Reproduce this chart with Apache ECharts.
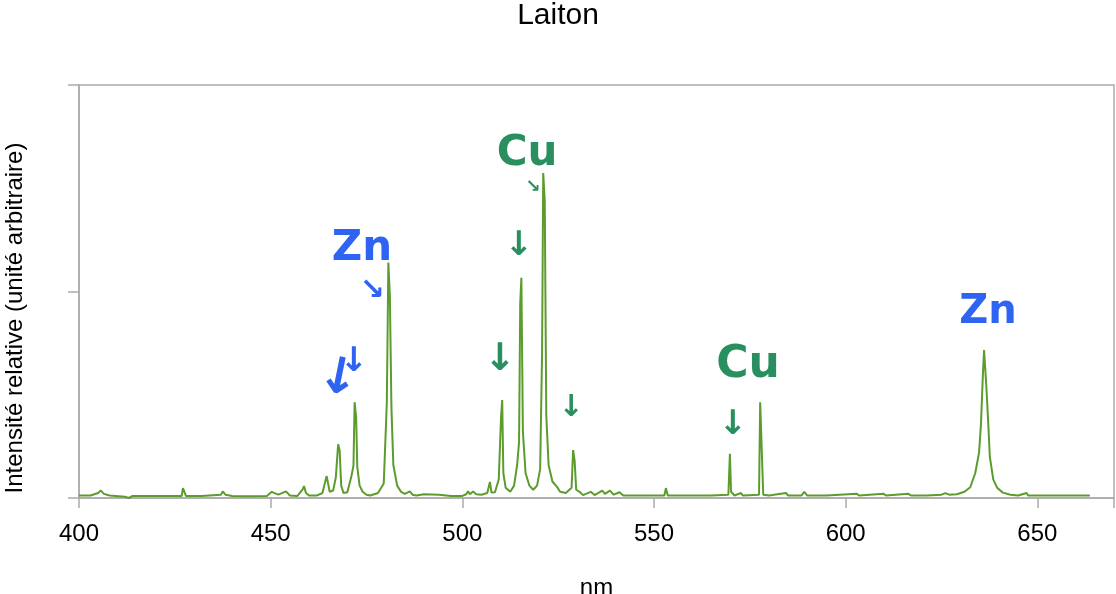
<!DOCTYPE html>
<html>
<head>
<meta charset="utf-8">
<title>Laiton</title>
<script src="https://cdn.jsdelivr.net/npm/echarts@6/dist/echarts.min.js"></script>
<style>
  html, body { margin: 0; padding: 0; background: #fff; }
  #box { width: 1116px; height: 594px; }
</style>
</head>
<body>
<div id="box"></div>
<script>
const wavelength = [
  400, 403, 405, 405.7, 406.5, 408, 412, 413, 414, 420,
  426.8, 427.1, 427.6, 427.9, 432, 437, 437.5, 438.2, 440, 444,
  449, 450.3, 451, 452, 454, 455, 457, 458.3, 458.7, 459.2,
  460, 462, 463.5, 464.6, 465, 465.4, 466.3, 467, 467.6, 468,
  468.4, 469, 470, 471, 471.6, 471.9, 472.3, 472.6, 473.2, 474,
  475, 476, 478, 479.5, 480.3, 480.7, 481.1, 481.5, 482, 483,
  484, 485, 486.3, 487, 488, 490, 494, 497, 500, 501,
  501.5, 502, 502.8, 503.6, 505, 506.5, 507.2, 507.6, 508.5, 509.5,
  510.1, 510.4, 510.7, 511.3, 512.5, 513.5, 514.3, 514.8, 515.1, 515.4,
  515.8, 516.5, 517.5, 518.5, 519.5, 520.3, 520.8, 521.1, 521.5, 521.9,
  522.5, 523.5, 524.7, 525.5, 527, 528.5, 528.9, 529.3, 529.7, 530.6,
  531.5, 533.5, 534.5, 536.5, 537.2, 538.5, 539.5, 541, 542, 545,
  550, 552.7, 553.1, 553.6, 556, 560, 565, 569.4, 569.8, 570.1,
  571, 572.7, 573.2, 577.4, 577.7, 578.2, 578.5, 580, 584.4, 585,
  588.5, 589.2, 590, 595, 602.9, 603.5, 609.9, 610.5, 616.4, 617,
  621, 625, 626, 627, 629, 631, 632.5, 633.8, 634.8, 635.3,
  635.8, 636.1, 636.3, 636.7, 637.2, 637.6, 638.5, 639.5, 641, 643,
  645, 647.2, 647.6, 650, 655, 660, 663.7
]
const intensity = [
  0.6, 0.6, 1.2, 1.8, 1.0, 0.6, 0.3, 0.0, 0.5, 0.5,
  0.5, 2.4, 2.4, 0.5, 0.5, 0.8, 1.6, 0.8, 0.5, 0.4,
  0.5, 1.5, 1.2, 0.8, 1.6, 0.6, 0.5, 2.0, 2.9, 1.2,
  0.6, 0.6, 1.2, 5.3, 5.0, 1.5, 1.8, 5.0, 13.0, 11.5,
  3.0, 1.2, 1.4, 5.0, 7.8, 23.2, 19.5, 7.5, 3.0, 1.5,
  0.8, 0.6, 1.2, 3.5, 23.0, 57.0, 48.7, 22.0, 8.0, 3.0,
  1.5, 1.0, 1.6, 0.8, 0.6, 0.9, 0.8, 0.5, 0.5, 0.9,
  1.6, 0.9, 1.6, 0.9, 0.8, 1.2, 3.9, 1.3, 1.4, 4.5,
  19.6, 23.7, 6.0, 2.5, 1.5, 3.0, 8.0, 13.6, 47.0, 53.3,
  16.0, 6.0, 3.0, 2.0, 3.0, 7.0, 35.0, 78.7, 72.0, 20.0,
  8.0, 4.0, 2.7, 1.5, 1.2, 2.5, 11.6, 9.0, 2.0, 1.5,
  0.7, 1.5, 0.7, 1.8, 1.0, 1.8, 0.8, 1.4, 0.6, 0.6,
  0.6, 0.6, 2.4, 0.6, 0.6, 0.6, 0.6, 0.8, 10.7, 1.5,
  0.6, 1.2, 0.6, 0.8, 23.2, 23.2, 0.8, 0.6, 1.2, 0.6,
  0.6, 1.5, 0.6, 0.6, 1.0, 0.6, 1.0, 0.6, 1.0, 0.6,
  0.6, 0.8, 1.2, 0.8, 0.9, 1.5, 2.6, 6.0, 11.0, 18.0,
  30.0, 35.8, 35.5, 27.0, 18.0, 10.0, 4.5, 2.5, 1.3, 0.8,
  0.6, 1.2, 0.6, 0.6, 0.6, 0.6, 0.6
]

// annotations manuscrites : [texte, x, y, taille, couleur, rotation]
const blue = '#2f64f2'
const green = '#2a8f5e'
const notes = [
  ['Zn', 362, 249, 42, blue, 0],
  ['↘', 372, 291, 30, blue, 0],
  ['↓', 338, 380, 50, blue, -0.2],
  ['↓', 354, 362, 34, blue, 0],
  ['Cu', 527, 154, 42, green, 0],
  ['↘', 533, 187, 18, green, 0],
  ['↓', 519, 246, 34, green, 0],
  ['↓', 500, 360, 38, green, 0],
  ['↓', 571, 408, 30, green, 0],
  ['Cu', 748, 366, 44, green, 0],
  ['↓', 733, 425, 34, green, 0],
  ['Zn', 988, 313, 40, blue, 0]
]

const chart = echarts.init(document.getElementById('box'))
chart.setOption({
  animation: false,
  title: {
    text: 'Laiton',
    left: 'center',
    top: -4,
    textStyle: { fontFamily: 'Liberation Sans', fontSize: 30, fontWeight: 'normal', color: '#000' }
  },
  grid: {
    left: 79, right: 2, top: 85, bottom: 96,
    outerBoundsMode: 'none',
    show: true, borderColor: '#ababab', borderWidth: 1.5
  },
  xAxis: {
    type: 'value',
    min: 400, max: 670, interval: 50,
    name: 'nm',
    nameLocation: 'middle',
    nameGap: 78,
    nameTextStyle: { fontFamily: 'Liberation Sans', fontSize: 24, color: '#000' },
    axisLine: { lineStyle: { color: '#ababab', width: 1.5 } },
    axisTick: { length: 10, lineStyle: { color: '#ababab', width: 1.5 } },
    axisLabel: {
      fontFamily: 'Liberation Sans', fontSize: 24, color: '#000', margin: 24,
      formatter: v => (v % 50 === 0 && v <= 650 ? String(v) : '')
    },
    splitLine: { show: false }
  },
  yAxis: {
    type: 'value',
    min: 0, max: 100, interval: 50,
    axisLine: { show: true, lineStyle: { color: '#ababab', width: 1.5 } },
    axisTick: { show: true, length: 11, lineStyle: { color: '#ababab', width: 1.5 } },
    axisLabel: { show: false },
    splitLine: { show: false }
  },
  series: [{
    type: 'line',
    data: wavelength.map((x, i) => [x, intensity[i]]),
    showSymbol: false,
    lineStyle: { color: '#5c9b2d', width: 2 },
    z: 3
  }],
  graphic: [{
    // titre de l'axe vertical, un peu plus bas que le milieu comme sur l'original
    type: 'text',
    x: 15, y: 318,
    rotation: Math.PI / 2,
    style: {
      text: 'Intensité relative (unité arbitraire)',
      fill: '#000',
      font: '24px "Liberation Sans"',
      textAlign: 'center',
      textVerticalAlign: 'middle'
    }
  }].concat(notes.map(n => ({
    type: 'text',
    x: n[1], y: n[2],
    rotation: n[5],
    z: 10,
    style: {
      text: n[0],
      fill: n[4],
      font: 'bold ' + n[3] + 'px "DejaVu Sans"',
      textAlign: 'center',
      textVerticalAlign: 'middle'
    }
  })))
})
</script>
</body>
</html>
